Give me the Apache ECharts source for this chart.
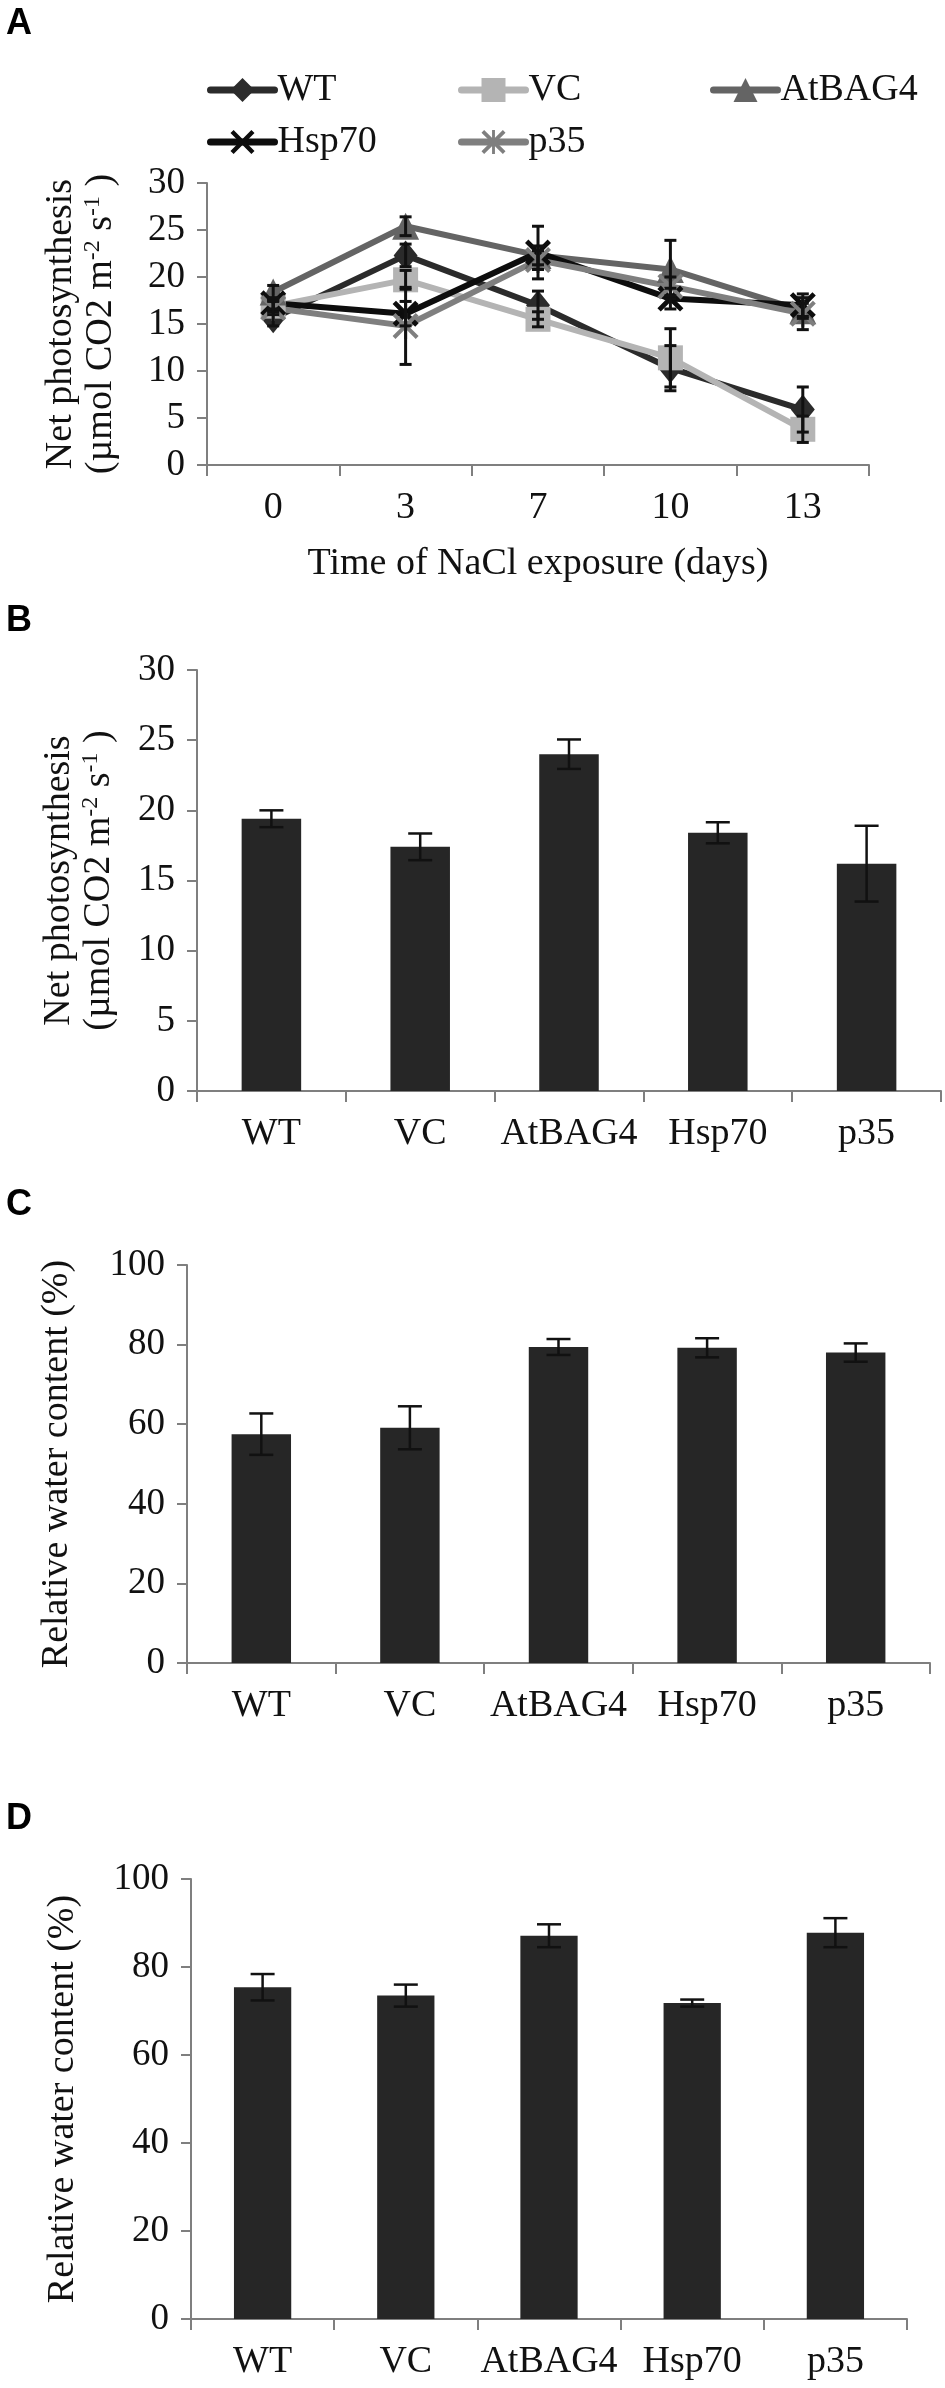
<!DOCTYPE html>
<html>
<head>
<meta charset="utf-8">
<script src="https://cdn.jsdelivr.net/npm/echarts@6/dist/echarts.min.js"></script>
<style>
  html, body { margin: 0; padding: 0; background: #fff; }
  #main { width: 945px; height: 2388px; }
</style>
</head>
<body>
<div id="main"></div>
<script>
// panel A: time course
var days = ['0', '3', '7', '10', '13'];
var wt = [15.6, 22.3, 17.0, 10.3, 5.9];
var wtErr = [0.8, 1.2, 1.5, 2.4, 2.4];
var vc = [16.9, 19.7, 15.5, 11.4, 3.8];
var vcErr = [0.6, 1.0, 0.8, 3.1, 1.4];
var bag4 = [18.4, 25.4, 22.3, 20.8, 16.4];
var bag4Err = [0.7, 1.0, 1.0, 3.1, 0.8];
var hsp70 = [17.2, 16.1, 22.6, 17.7, 17.0];
var hsp70Err = [0.6, 1.3, 2.8, 1.1, 1.2];
var p35 = [16.7, 14.8, 21.8, 19.0, 16.1];
var p35Err = [0.7, 4.1, 1.0, 1.0, 1.7];

// panels B-D
var lines = ['WT', 'VC', 'AtBAG4', 'Hsp70', 'p35'];
var photoB = [19.4, 17.4, 24.0, 18.4, 16.2];
var photoBErr = [0.6, 0.95, 1.05, 0.75, 2.7];
var waterC = [57.5, 59.1, 79.4, 79.2, 78.0];
var waterCErr = [5.2, 5.4, 2.0, 2.4, 2.3];
var waterD = [75.4, 73.5, 87.1, 71.8, 87.8];
var waterDErr = [3.0, 2.5, 2.6, 0.8, 3.3];

var serif = 'Liberation Serif';
var axisGray = '#7f7f7f';

var symX = 'path://M0,1.3L1.3,0L5,3.7L8.7,0L10,1.3L6.3,5L10,8.7L8.7,10L5,6.3L1.3,10L0,8.7L3.7,5Z';
var symStar = 'path://M0,1.1L1.1,0L5,3.9L8.9,0L10,1.1L6.1,5L10,8.9L8.9,10L5,6.1L1.1,10L0,8.9L3.9,5Z M4.4,0L5.6,0L5.6,10L4.4,10Z';

function pack(vals, errs) {
    var out = [];
    for (var i = 0; i < vals.length; i++) out.push([i, vals[i], errs[i]]);
    return out;
}

function errRender(capHalf, lw) {
    return function (params, api) {
        var x = api.value(0), y = api.value(1), e = api.value(2);
        var hi = api.coord([x, y + e]);
        var lo = api.coord([x, y - e]);
        var st = { stroke: '#111', lineWidth: lw };
        return {
            type: 'group',
            children: [
                { type: 'line', shape: { x1: hi[0], y1: hi[1], x2: lo[0], y2: lo[1] }, style: st },
                { type: 'line', shape: { x1: hi[0] - capHalf, y1: hi[1], x2: hi[0] + capHalf, y2: hi[1] }, style: st },
                { type: 'line', shape: { x1: lo[0] - capHalf, y1: lo[1], x2: lo[0] + capHalf, y2: lo[1] }, style: st }
            ]
        };
    };
}

function xAx(idx, cats) {
    return {
        type: 'category', gridIndex: idx, data: cats,
        axisLine: { lineStyle: { color: axisGray, width: 2 } },
        axisTick: { show: true, length: 11, lineStyle: { color: axisGray, width: 2 } },
        axisLabel: { color: '#111', fontFamily: serif, fontSize: 38, margin: 24, interval: 0 }
    };
}

function yAx(idx, max, step, name, gap) {
    return {
        type: 'value', gridIndex: idx, min: 0, max: max, interval: step,
        name: name, nameLocation: 'middle', nameGap: gap,
        nameTextStyle: {
            color: '#111', fontFamily: serif, fontSize: 38, lineHeight: 40,
            rich: {
                a: { fontFamily: serif, fontSize: 38, color: '#111', lineHeight: 40 },
                s: { fontFamily: serif, fontSize: 24, color: '#111', verticalAlign: 'top', lineHeight: 40, padding: [0, 0, 12, 0] }
            }
        },
        splitLine: { show: false },
        axisLine: { show: true, lineStyle: { color: axisGray, width: 2 } },
        axisTick: { show: true, length: 10, lineStyle: { color: axisGray, width: 2 } },
        axisLabel: { color: '#111', fontFamily: serif, fontSize: 37, margin: 22 }
    };
}

var photoName = '{a|Net photosynthesis}\n{a|(µmol CO2 m}{s|-2}{a| s}{s|-1}{a| )}';

function lineSeries(name, data, color, symbol, size) {
    return {
        name: name, type: 'line', xAxisIndex: 0, yAxisIndex: 0, data: data,
        symbol: symbol, symbolSize: size,
        lineStyle: { color: color, width: 6 },
        itemStyle: { color: color },
        z: 3
    };
}

function barSeries(idx, data) {
    return {
        type: 'bar', xAxisIndex: idx, yAxisIndex: idx, data: data,
        barWidth: '40%', itemStyle: { color: '#262626' }, z: 2
    };
}

function errSeries(idx, data, capHalf, lw) {
    return {
        type: 'custom', xAxisIndex: idx, yAxisIndex: idx, data: data,
        renderItem: errRender(capHalf, lw), z: 5, silent: true
    };
}

var myChart = echarts.init(document.getElementById('main'), null, { renderer: 'canvas' });

var legendBase = {
    orient: 'vertical', itemWidth: 64, itemHeight: 30, itemGap: 14, top: 66,
    lineStyle: { width: 7, cap: 'round' },
    textStyle: { fontFamily: serif, fontSize: 38, color: '#111', padding: [0, 0, 0, -2] },
    selectedMode: false
};

option = {
    backgroundColor: '#fff',
    animation: false,
    graphic: [
        { type: 'text', left: 6, top: 6, style: { text: 'A', font: 'bold 36px "Liberation Sans"', fill: '#000' } },
        { type: 'text', left: 6, top: 603, style: { text: 'B', font: 'bold 36px "Liberation Sans"', fill: '#000' } },
        { type: 'text', left: 6, top: 1187, style: { text: 'C', font: 'bold 36px "Liberation Sans"', fill: '#000' } },
        { type: 'text', left: 6, top: 1801, style: { text: 'D', font: 'bold 36px "Liberation Sans"', fill: '#000' } }
    ],
    legend: [
        echarts.util.merge({ left: 202, data: ['WT', 'Hsp70'] }, legendBase, false),
        echarts.util.merge({ left: 453, data: ['VC', 'p35'] }, legendBase, false),
        echarts.util.merge({ left: 705, data: ['AtBAG4'] }, legendBase, false)
    ],
    grid: [
        { left: 207, top: 183, width: 662, height: 282 },
        { left: 197, top: 670, width: 744, height: 421 },
        { left: 187, top: 1265, width: 743, height: 398 },
        { left: 191, top: 1879, width: 716, height: 440 }
    ],
    xAxis: [
        echarts.util.merge({
            name: 'Time of NaCl exposure (days)', nameLocation: 'middle', nameGap: 80,
            nameTextStyle: { color: '#111', fontFamily: serif, fontSize: 38 }
        }, xAx(0, days), false),
        xAx(1, lines),
        xAx(2, lines),
        xAx(3, lines)
    ],
    yAxis: [
        yAx(0, 30, 5, photoName, 86),
        yAx(1, 30, 5, photoName, 78),
        yAx(2, 100, 20, 'Relative water content (%)', 110),
        yAx(3, 100, 20, 'Relative water content (%)', 108)
    ],
    series: [
        lineSeries('WT', wt, '#2b2b2b', 'diamond', [24, 30]),
        lineSeries('VC', vc, '#b4b4b4', 'rect', 25),
        lineSeries('AtBAG4', bag4, '#646464', 'triangle', 27),
        lineSeries('Hsp70', hsp70, '#0d0d0d', symX, 26),
        lineSeries('p35', p35, '#7f7f7f', symStar, 26),
        errSeries(0, pack(wt, wtErr), 6, 3),
        errSeries(0, pack(vc, vcErr), 6, 3),
        errSeries(0, pack(bag4, bag4Err), 6, 3),
        errSeries(0, pack(hsp70, hsp70Err), 6, 3),
        errSeries(0, pack(p35, p35Err), 6, 3),
        barSeries(1, photoB),
        errSeries(1, pack(photoB, photoBErr), 12, 2.5),
        barSeries(2, waterC),
        errSeries(2, pack(waterC, waterCErr), 12, 2.5),
        barSeries(3, waterD),
        errSeries(3, pack(waterD, waterDErr), 12, 2.5)
    ]
};
myChart.setOption(option);
</script>
</body>
</html>
